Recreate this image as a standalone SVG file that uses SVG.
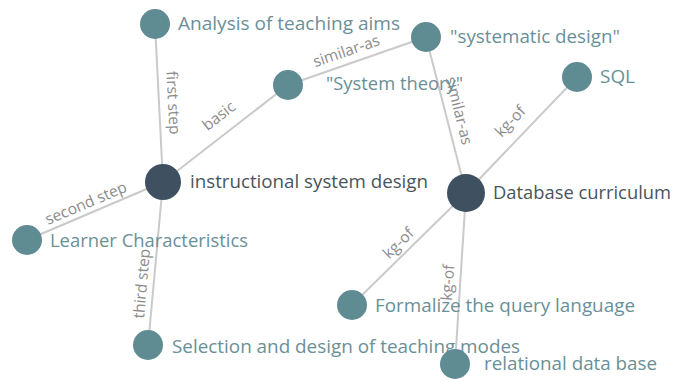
<svg xmlns="http://www.w3.org/2000/svg" width="675" height="380" viewBox="0 0 675 380">
<style>
.edge{stroke:#cacaca;stroke-width:2;fill:none}
.el{font-family:"Open Sans",sans-serif;font-size:15.5px;font-weight:500;fill:#8c8c8c;text-anchor:middle}
.n{fill:#5f8b92}
.d{fill:#3f5161}
.t{font-family:"Open Sans",sans-serif;font-size:18.5px;font-weight:500;fill:#6a9097}
.td{font-family:"Open Sans",sans-serif;font-size:18.5px;font-weight:500;fill:#4a545c}
</style>
<rect width="675" height="380" fill="#ffffff"/>
<g id="connectors">
<line class="edge" x1="155" y1="24" x2="163" y2="182"/>
<line class="edge" x1="163" y1="182" x2="288" y2="85"/>
<line class="edge" x1="288" y1="85" x2="426" y2="37"/>
<line class="edge" x1="426" y1="37" x2="466" y2="193"/>
<line class="edge" x1="577" y1="77" x2="466" y2="193"/>
<line class="edge" x1="163" y1="182" x2="27" y2="240"/>
<line class="edge" x1="163" y1="182" x2="148" y2="346"/>
<line class="edge" x1="466" y1="193" x2="352" y2="305"/>
<line class="edge" x1="466" y1="193" x2="455" y2="364"/>
<text class="el" transform="translate(168,103) rotate(87)">first step</text>
<text class="el" transform="translate(222,120) rotate(-38)">basic</text>
<text class="el" transform="translate(348,56) rotate(-19)">similar-as</text>
<text class="el" transform="translate(454,112) rotate(76)">similar-as</text>
<text class="el" transform="translate(514,125) rotate(-46)">kg-of</text>
<text class="el" transform="translate(88,208) rotate(-23)">second step</text>
<text class="el" transform="translate(147,284) rotate(-85)">third step</text>
<text class="el" transform="translate(402,247) rotate(-44)">kg-of</text>
<text class="el" transform="translate(453,283) rotate(-86)">kg-of</text>
</g>
<g id="n-analysis"><circle class="n" cx="155" cy="24" r="15"/><text class="t" x="178" y="30" textLength="222" lengthAdjust="spacingAndGlyphs">Analysis of teaching aims</text></g>
<g id="n-systematic"><circle class="n" cx="426" cy="37" r="15"/><text class="t" x="450" y="43" textLength="170" lengthAdjust="spacingAndGlyphs">"systematic design"</text></g>
<g id="n-systemtheory"><circle class="n" cx="288" cy="85" r="15"/><text class="t" x="326" y="90" textLength="137" lengthAdjust="spacingAndGlyphs">"System theory"</text></g>
<g id="n-sql"><circle class="n" cx="577" cy="77" r="15"/><text class="t" x="600" y="83" textLength="35" lengthAdjust="spacingAndGlyphs">SQL</text></g>
<g id="n-isd"><circle class="d" cx="163" cy="182" r="18"/><text class="td" x="190" y="188" textLength="238" lengthAdjust="spacingAndGlyphs">instructional system design</text></g>
<g id="n-db"><circle class="d" cx="466" cy="193" r="19"/><text class="td" x="493" y="199" textLength="178" lengthAdjust="spacingAndGlyphs">Database curriculum</text></g>
<g id="n-learner"><circle class="n" cx="27" cy="240" r="15"/><text class="t" x="50" y="247" textLength="198" lengthAdjust="spacingAndGlyphs">Learner Characteristics</text></g>
<g id="n-formalize"><circle class="n" cx="352" cy="305" r="15"/><text class="t" x="375" y="312" textLength="260" lengthAdjust="spacingAndGlyphs">Formalize the query language</text></g>
<g id="n-selection"><circle class="n" cx="148" cy="345" r="15"/><text class="t" x="172" y="353" textLength="348" lengthAdjust="spacingAndGlyphs">Selection and design of teaching modes</text></g>
<g id="n-relational"><circle class="n" cx="455" cy="364" r="15"/><text class="t" x="484" y="370" textLength="173" lengthAdjust="spacingAndGlyphs">relational data base</text></g>
</svg>
